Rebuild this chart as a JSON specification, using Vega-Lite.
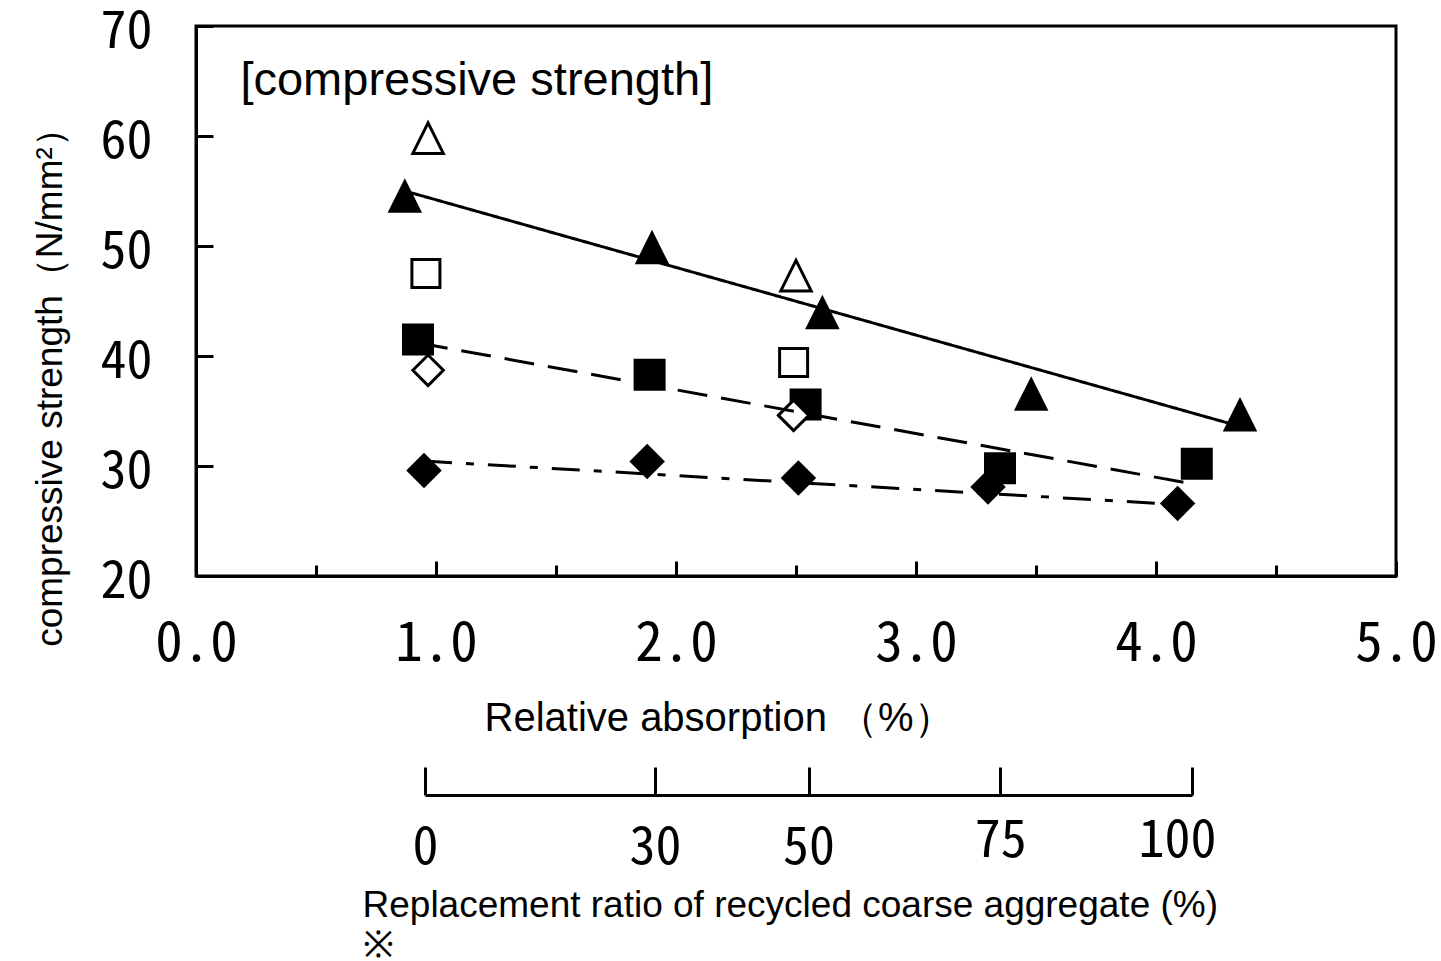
{
  "$schema": "https://vega.github.io/schema/vega-lite/v6.json",
  "width": 1200,
  "height": 550,
  "autosize": {"type": "none"},
  "padding": {"left": 196, "top": 26, "right": 45, "bottom": 385},
  "background": "white",
  "config": {
    "view": {"stroke": "black", "strokeWidth": 3},
    "font": "Liberation Sans"
  },
  "datasets": {
    "points": [
      {"a": 0.87, "s": 54.6, "m": "tri_f"},
      {"a": 1.90, "s": 49.9, "m": "tri_f"},
      {"a": 2.61, "s": 44.0, "m": "tri_f"},
      {"a": 3.48, "s": 36.6, "m": "tri_f"},
      {"a": 4.35, "s": 34.7, "m": "tri_f"},
      {"a": 0.925, "s": 41.5, "m": "sq_f"},
      {"a": 1.89, "s": 38.3, "m": "sq_f"},
      {"a": 2.54, "s": 35.6, "m": "sq_f"},
      {"a": 3.35, "s": 29.8, "m": "sq_f"},
      {"a": 4.17, "s": 30.2, "m": "sq_f"},
      {"a": 0.95, "s": 29.6, "m": "dia_f"},
      {"a": 1.88, "s": 30.4, "m": "dia_f"},
      {"a": 2.51, "s": 28.9, "m": "dia_f"},
      {"a": 3.30, "s": 28.1, "m": "dia_f"},
      {"a": 4.09, "s": 26.6, "m": "dia_f"},
      {"a": 0.967, "s": 59.8, "m": "tri_o"},
      {"a": 2.50, "s": 47.3, "m": "tri_o"},
      {"a": 0.958, "s": 47.5, "m": "sq_o"},
      {"a": 2.49, "s": 39.4, "m": "sq_o"},
      {"a": 0.967, "s": 38.7, "m": "dia_o"},
      {"a": 2.49, "s": 34.6, "m": "dia_o"}
    ],
    "fits": [
      {"a": 0.87, "s": 55.0, "fit": "solid"},
      {"a": 4.35, "s": 33.6, "fit": "solid"},
      {"a": 0.925, "s": 41.2, "fit": "dash"},
      {"a": 4.17, "s": 28.3, "fit": "dash"},
      {"a": 0.95, "s": 30.45, "fit": "dashdot"},
      {"a": 4.09, "s": 26.5, "fit": "dashdot"}
    ],
    "notes": [
      {"a": 0.185, "s": 63.75, "label": "[compressive strength]"}
    ],
    "ratio": [
      {"r": 0},
      {"r": 100}
    ]
  },
  "layer": [
    {
      "encoding": {
        "x": {
          "field": "a",
          "type": "quantitative",
          "scale": {"domain": [0, 5], "nice": false, "zero": false},
          "axis": {
            "values": [0, 0.5, 1, 1.5, 2, 2.5, 3, 3.5, 4, 4.5, 5],
            "labelExpr": "datum.value % 1 === 0 ? format(datum.value, '.1f') : ''",
            "tickSize": {"condition": {"test": "datum.value % 1 === 0", "value": -15}, "value": -11},
            "tickWidth": 3,
            "tickColor": "black",
            "domainColor": "black",
            "domainWidth": 3,
            "grid": false,
            "labelFont": "Noto Sans Mono CJK JP",
            "labelFontSize": 55,
            "labelColor": "black",
            "labelBaseline": "alphabetic",
            "labelPadding": 99,
            "labelFlush": false,
            "labelOverlap": false,
            "title": "Relative absorption  （%）",
            "titleFont": "Liberation Sans",
            "titleFontSize": 40,
            "titleFontWeight": "normal",
            "titleColor": "black",
            "titleAlign": "left",
            "titleBaseline": "alphabetic",
            "titleX": 288,
            "titleY": 154
          }
        },
        "y": {
          "field": "s",
          "type": "quantitative",
          "scale": {"domain": [20, 70], "nice": false, "zero": false},
          "axis": {
            "values": [20, 30, 40, 50, 60, 70],
            "tickSize": -17,
            "tickWidth": 3,
            "tickColor": "black",
            "domainColor": "black",
            "domainWidth": 3,
            "grid": false,
            "labelFont": "Noto Sans Mono CJK JP",
            "labelFontSize": 52,
            "labelColor": "black",
            "labelBaseline": "alphabetic",
            "labelAlign": "right",
            "labelPadding": 61,
            "labelOffset": 21,
            "labelFlush": false,
            "labelOverlap": false,
            "title": "compressive strength（N/mm²）",
            "titleFont": "Liberation Sans",
            "titleFontSize": 37,
            "titleFontWeight": "normal",
            "titleColor": "black",
            "titleAngle": -90,
            "titleAlign": "center",
            "titleBaseline": "middle",
            "titleX": -146,
            "titleY": 352
          }
        }
      },
      "layer": [
        {
          "data": {"name": "points"},
          "transform": [{"filter": "datum.m === 'tri_f'"}],
          "mark": {"type": "point", "shape": "M0,-1L1,1L-1,1Z", "size": 1190, "filled": true, "fill": "black", "strokeWidth": 0, "opacity": 1}
        },
        {
          "data": {"name": "points"},
          "transform": [{"filter": "datum.m === 'sq_f'"}],
          "mark": {"type": "point", "shape": "square", "size": 1024, "filled": true, "fill": "black", "strokeWidth": 0, "opacity": 1}
        },
        {
          "data": {"name": "points"},
          "transform": [{"filter": "datum.m === 'dia_f'"}],
          "mark": {"type": "point", "shape": "diamond", "size": 1260, "filled": true, "fill": "black", "strokeWidth": 0, "opacity": 1}
        },
        {
          "data": {"name": "points"},
          "transform": [{"filter": "datum.m === 'tri_o'"}],
          "mark": {"type": "point", "shape": "M0,-1L1,1L-1,1Z", "size": 930, "filled": true, "fill": "white", "stroke": "black", "strokeWidth": 3, "opacity": 1}
        },
        {
          "data": {"name": "points"},
          "transform": [{"filter": "datum.m === 'sq_o'"}],
          "mark": {"type": "point", "shape": "square", "size": 784, "filled": true, "fill": "white", "stroke": "black", "strokeWidth": 3, "opacity": 1}
        },
        {
          "data": {"name": "points"},
          "transform": [{"filter": "datum.m === 'dia_o'"}],
          "mark": {"type": "point", "shape": "diamond", "size": 930, "filled": true, "fill": "white", "stroke": "black", "strokeWidth": 3, "opacity": 1}
        },
        {
          "data": {"name": "fits"},
          "mark": {"type": "line", "color": "black", "strokeWidth": 3},
          "encoding": {
            "strokeDash": {
              "field": "fit",
              "type": "nominal",
              "scale": {"domain": ["solid", "dash", "dashdot"], "range": [[1, 0], [30, 14], [28, 14, 8, 14]]},
              "legend": null
            }
          }
        },
        {
          "data": {"name": "notes"},
          "mark": {"type": "text", "align": "left", "baseline": "alphabetic", "font": "Liberation Sans", "fontSize": 47, "color": "black"},
          "encoding": {"text": {"field": "label"}}
        }
      ]
    },
    {
      "data": {"name": "ratio"},
      "mark": {"type": "point", "opacity": 0},
      "encoding": {
        "x": {
          "field": "r",
          "type": "quantitative",
          "scale": {"domain": [0, 100], "range": [229, 996], "nice": false, "zero": false},
          "axis": {
            "orient": "bottom",
            "offset": 219,
            "values": [0, 30, 50, 75, 100],
            "tickSize": -28,
            "tickWidth": 3,
            "tickColor": "black",
            "domainColor": "black",
            "domainWidth": 3,
            "grid": false,
            "labelFont": "Noto Sans Mono CJK JP",
            "labelFontSize": 52,
            "labelColor": "black",
            "labelBaseline": "alphabetic",
            "labelPadding": {"condition": {"test": "datum.value >= 75", "value": 89}, "value": 96},
            "labelOffset": {"condition": {"test": "datum.value === 100", "value": -15}, "value": 0},
            "labelFlush": false,
            "labelOverlap": false,
            "title": ["Replacement ratio of recycled coarse aggregate (%)", "※"],
            "titleFont": "Liberation Sans",
            "titleFontSize": 37,
            "titleFontWeight": "normal",
            "titleColor": "black",
            "titleAlign": "left",
            "titleBaseline": "alphabetic",
            "titleLineHeight": 40,
            "titleX": 166,
            "titleY": 121
          }
        }
      }
    }
  ],
  "resolve": {"scale": {"x": "independent"}, "axis": {"x": "independent"}}
}
